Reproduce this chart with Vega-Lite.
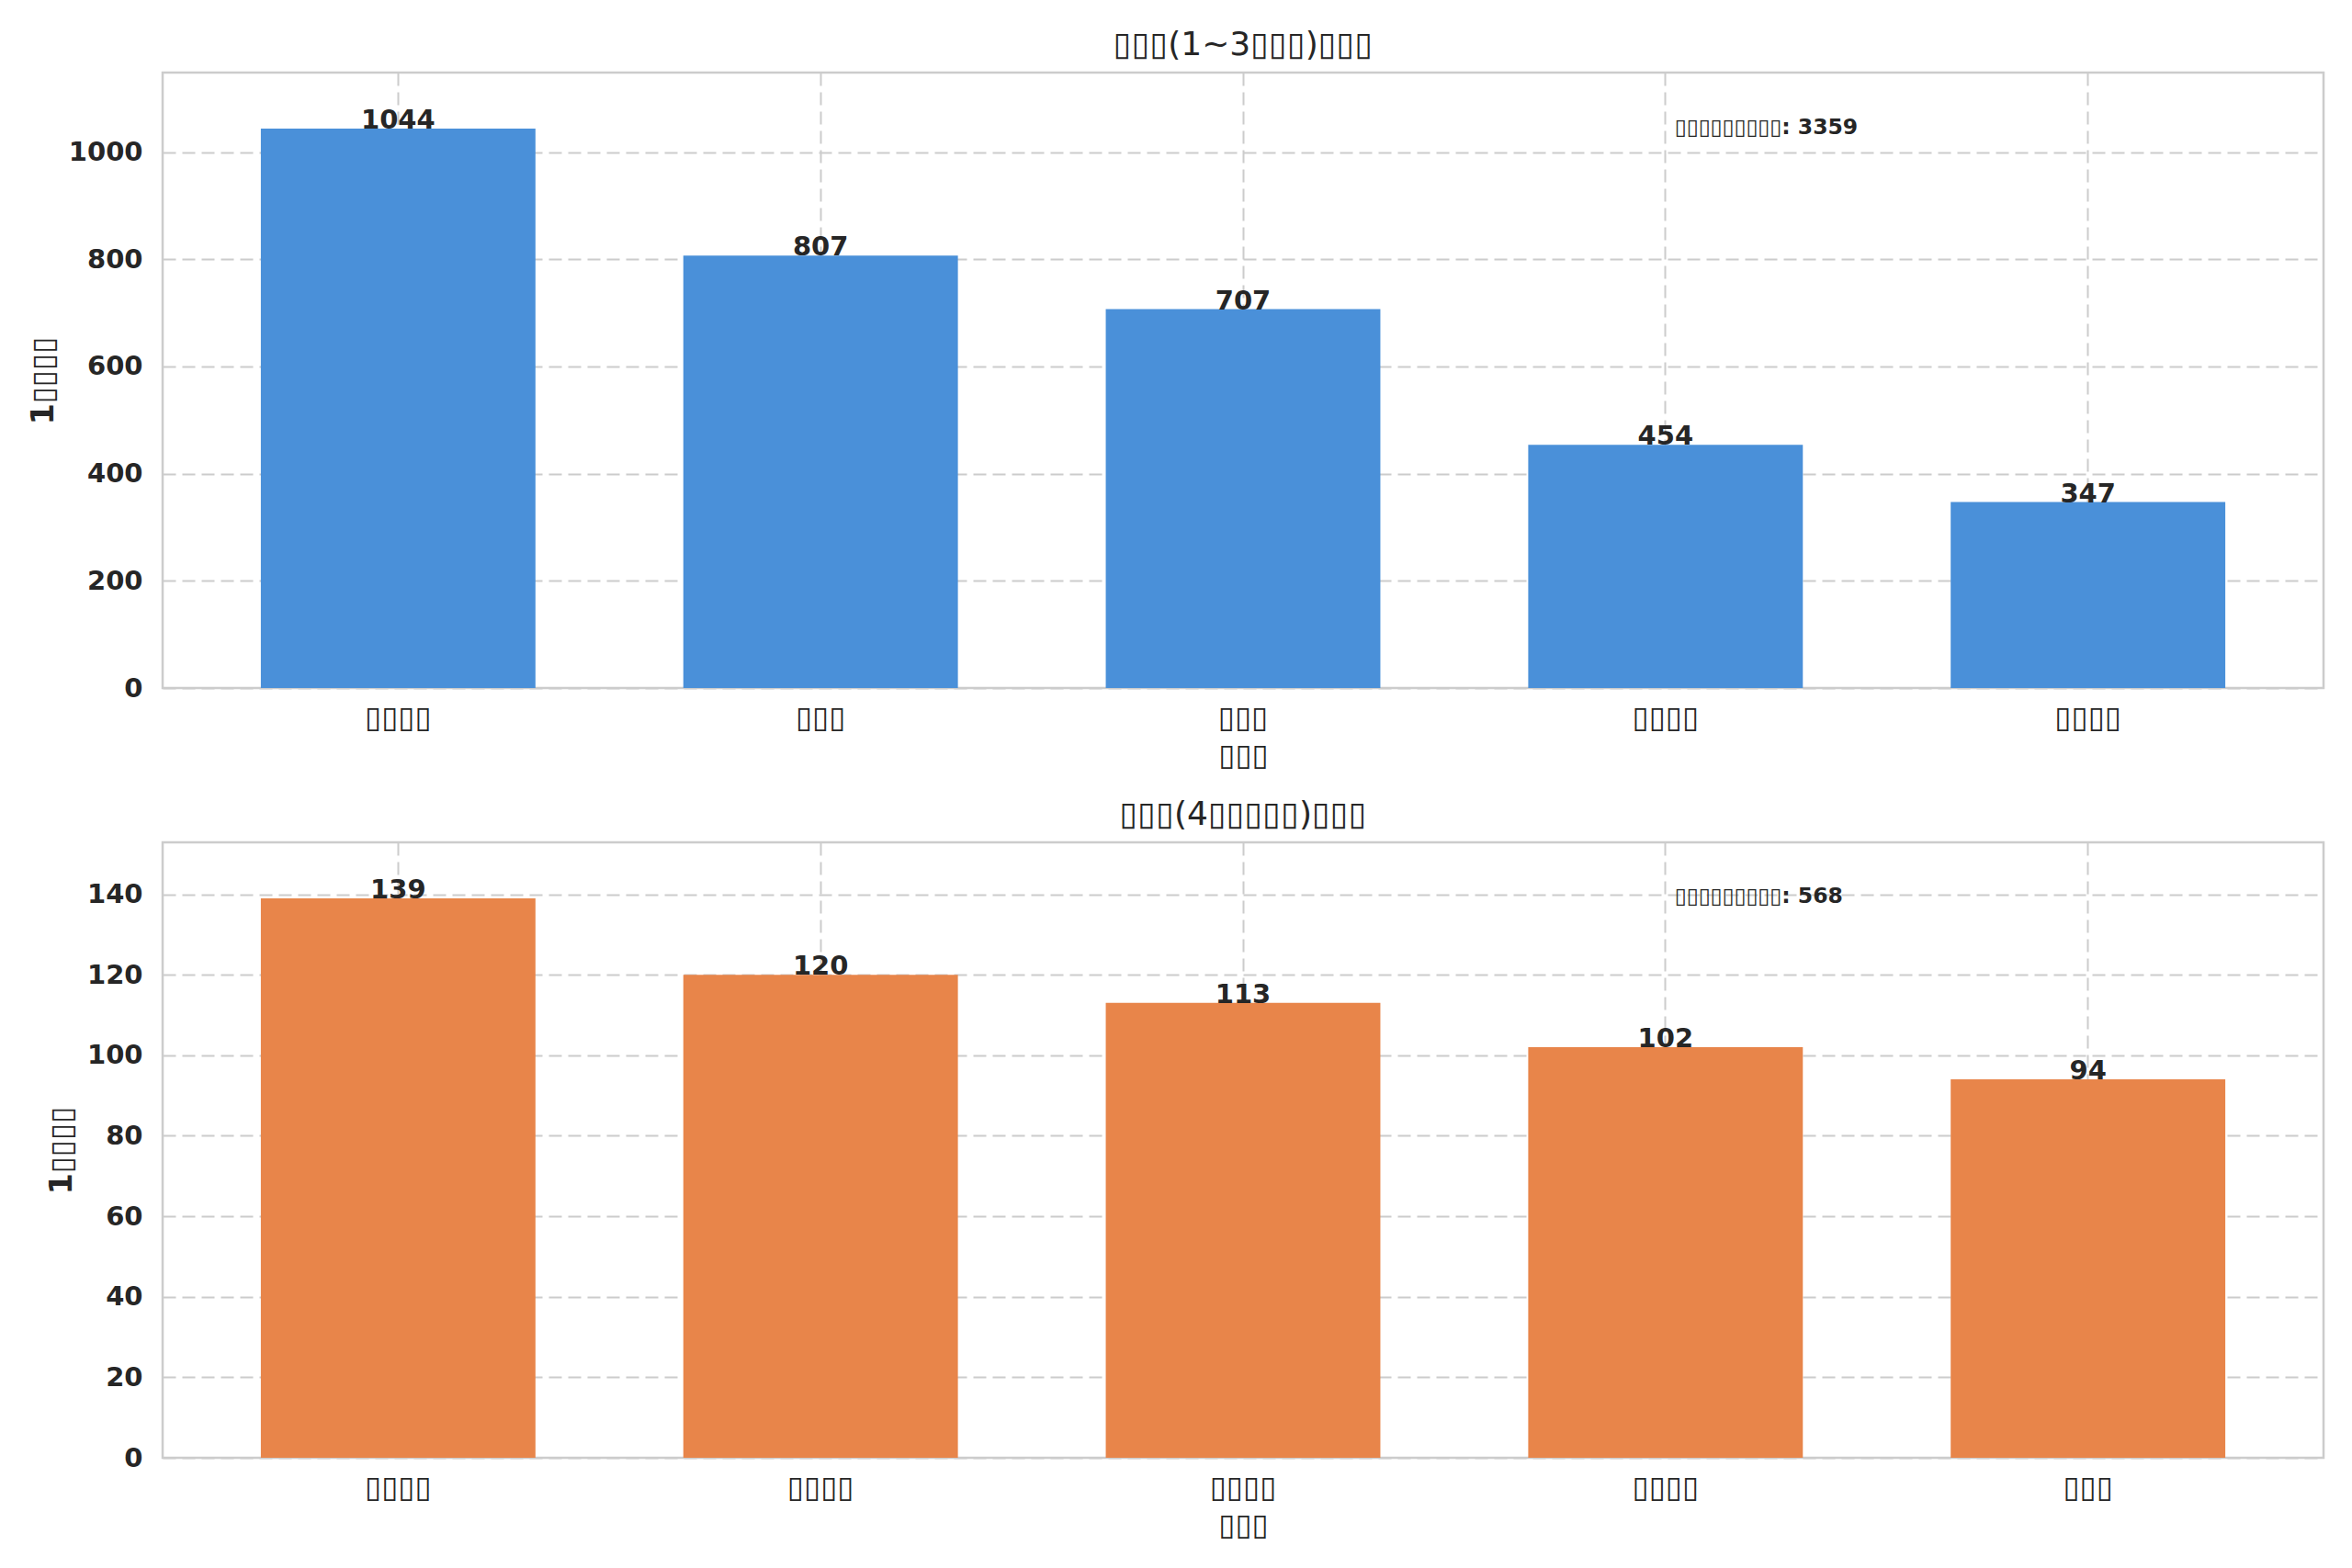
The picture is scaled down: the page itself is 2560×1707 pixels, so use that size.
{
  "$schema": "https://vega.github.io/schema/vega-lite/v6.json",
  "background": "white",
  "padding": {"left": 30, "top": 29, "right": 32, "bottom": 10},
  "spacing": 26,
  "datasets": {
    "grades13": [
      {"name": "▯▯▯▯", "count": 1044},
      {"name": "▯▯▯", "count": 807},
      {"name": "▯▯▯\u200b", "count": 707},
      {"name": "▯▯▯▯\u200b", "count": 454},
      {"name": "▯▯▯▯\u200b\u200b", "count": 347}
    ],
    "grades4": [
      {"name": "▯▯▯▯", "count": 139},
      {"name": "▯▯▯▯\u200b", "count": 120},
      {"name": "▯▯▯▯\u200b\u200b", "count": 113},
      {"name": "▯▯▯▯\u200b\u200b\u200b", "count": 102},
      {"name": "▯▯▯", "count": 94}
    ],
    "notes": [
      {"panel": "top", "name": "▯▯▯▯\u200b", "y": 1046, "text": "▯▯▯▯▯▯▯▯▯: 3359"},
      {"panel": "bottom", "name": "▯▯▯▯\u200b\u200b\u200b", "y": 139.5, "text": "▯▯▯▯▯▯▯▯▯: 568"}
    ]
  },
  "vconcat": [
    {
      "width": 2352,
      "height": 670,
      "title": "▯▯▯(1~3▯▯▯)▯▯▯",
      "layer": [
        {
          "data": {"name": "grades13"},
          "mark": {"type": "bar", "color": "#4A90D9"},
          "encoding": {
            "x": {"field": "name", "type": "nominal", "sort": null, "title": "▯▯▯",
                  "scale": {"paddingInner": 0.35, "paddingOuter": 0.2325}},
            "y": {"field": "count", "type": "quantitative", "title": "1▯▯▯▯",
                  "scale": {"domain": [0, 1148.4], "nice": false},
                  "axis": {"values": [0, 200, 400, 600, 800, 1000], "format": "d"}}
          }
        },
        {
          "data": {"name": "grades13"},
          "mark": {"type": "text", "baseline": "alphabetic", "dy": 0, "fontSize": 29, "fontWeight": "bold", "color": "#262626"},
          "encoding": {
            "x": {"field": "name", "type": "nominal", "sort": null},
            "y": {"field": "count", "type": "quantitative"},
            "text": {"field": "count", "type": "quantitative"}
          }
        },
        {
          "data": {"name": "notes"},
          "transform": [{"filter": "datum.panel == 'top'"}],
          "mark": {"type": "text", "align": "left", "baseline": "middle", "dx": 10, "fontSize": 23.5, "fontWeight": "bold", "color": "#262626"},
          "encoding": {
            "x": {"field": "name", "type": "nominal", "sort": null},
            "y": {"field": "y", "type": "quantitative"},
            "text": {"field": "text"}
          }
        }
      ]
    },
    {
      "width": 2352,
      "height": 670,
      "title": "▯▯▯(4▯▯▯▯▯)▯▯▯",
      "layer": [
        {
          "data": {"name": "grades4"},
          "mark": {"type": "bar", "color": "#E8854A"},
          "encoding": {
            "x": {"field": "name", "type": "nominal", "sort": null, "title": "▯▯▯",
                  "scale": {"paddingInner": 0.35, "paddingOuter": 0.2325}},
            "y": {"field": "count", "type": "quantitative", "title": "1▯▯▯▯",
                  "scale": {"domain": [0, 152.9], "nice": false},
                  "axis": {"values": [0, 20, 40, 60, 80, 100, 120, 140], "format": "d"}}
          }
        },
        {
          "data": {"name": "grades4"},
          "mark": {"type": "text", "baseline": "alphabetic", "dy": 0, "fontSize": 29, "fontWeight": "bold", "color": "#262626"},
          "encoding": {
            "x": {"field": "name", "type": "nominal", "sort": null},
            "y": {"field": "count", "type": "quantitative"},
            "text": {"field": "count", "type": "quantitative"}
          }
        },
        {
          "data": {"name": "notes"},
          "transform": [{"filter": "datum.panel == 'bottom'"}],
          "mark": {"type": "text", "align": "left", "baseline": "middle", "dx": 10, "fontSize": 23.5, "fontWeight": "bold", "color": "#262626"},
          "encoding": {
            "x": {"field": "name", "type": "nominal", "sort": null},
            "y": {"field": "y", "type": "quantitative"},
            "text": {"field": "text"}
          }
        }
      ]
    }
  ],
  "config": {
    "font": "DejaVu Sans",
    "view": {"stroke": "#cccccc", "strokeWidth": 2.5},
    "title": {"fontSize": 36, "fontWeight": "normal", "color": "#262626", "offset": 11},
    "axis": {
      "domain": false,
      "ticks": false,
      "grid": true,
      "gridColor": "#cccccc",
      "gridWidth": 2,
      "gridDash": [14, 7],
      "labelColor": "#262626",
      "titleColor": "#262626"
    },
    "axisX": {
      "labelAngle": 0,
      "labelFontSize": 33,
      "labelFontWeight": "normal",
      "labelPadding": 16,
      "titleFontSize": 33,
      "titleFontWeight": "normal",
      "titlePadding": 8
    },
    "axisY": {
      "labelFontSize": 29,
      "labelFontWeight": "bold",
      "labelPadding": 22,
      "titleFontSize": 33,
      "titleFontWeight": "bold",
      "titlePadding": 10
    }
  }
}
